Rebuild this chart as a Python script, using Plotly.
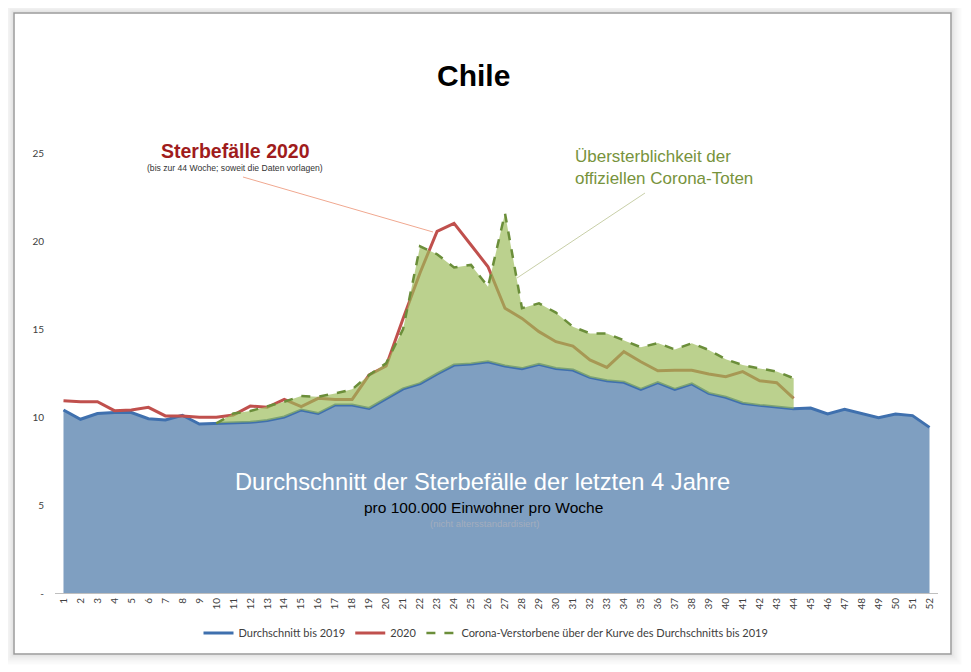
import plotly.graph_objects as go

weeks = list(range(1, 53))
week_labels = [str(w) for w in weeks]

# Durchschnitt bis 2019 (pro 100.000 Einwohner)
avg_2019 = [10.4, 9.87, 10.2, 10.25, 10.25, 9.9, 9.83, 10.1, 9.6, 9.64,
            9.65, 9.7, 9.8, 10.0, 10.4, 10.2, 10.68, 10.68, 10.49, 11.06,
            11.6, 11.9, 12.45, 12.95, 13.01, 13.14, 12.9, 12.75, 12.99, 12.76,
            12.67, 12.25, 12.06, 11.97, 11.57, 11.95, 11.57, 11.88, 11.34, 11.12,
            10.78, 10.66, 10.55, 10.47, 10.51, 10.17, 10.44, 10.21, 9.96, 10.17,
            10.08, 9.41]

# Sterbefaelle 2020, bis Woche 44
weeks_2020 = list(range(1, 45))
deaths_2020 = [10.93, 10.87, 10.87, 10.36, 10.4, 10.55, 10.06, 10.06, 9.98, 9.98,
               10.11, 10.62, 10.55, 11.0, 10.59, 11.06, 11.0, 11.0, 12.39, 12.9,
               15.6, 18.2, 20.55, 21.0, 19.77, 18.54, 16.18, 15.6, 14.85, 14.28,
               14.03, 13.24, 12.82, 13.71, 13.14, 12.63, 12.65, 12.65, 12.44, 12.29,
               12.58, 12.06, 11.95, 11.06]

# Durchschnitt + offizielle Corona-Tote, Woche 10 bis 44
weeks_corona = list(range(10, 45))
corona_top = [9.64, 10.2, 10.34, 10.59, 10.87, 11.19, 11.15, 11.34, 11.57, 12.39,
              13.05, 15.0, 19.7, 19.25, 18.5, 18.64, 17.4, 21.57, 16.18, 16.46,
              15.93, 15.13, 14.75, 14.75, 14.35, 13.96, 14.2, 13.84, 14.19, 13.81,
              13.28, 12.95, 12.76, 12.58, 12.2]
corona_base = avg_2019[9:44]

# the page puts the figure 8px in from the top left corner
OFF = 8
L, R, T, B = 55 - OFF, 33, 153 - OFF, 79
W, H = 971 - OFF, 672 - OFF
PW, PH = W - L - R, H - T - B


def px(x):
    # screen pixel -> paper x
    return (x - OFF - L) / PW


def py(y):
    # screen pixel -> paper y
    return (T + PH - (y - OFF)) / PH


fig = go.Figure()

fig.add_trace(go.Scatter(x=weeks, y=avg_2019, mode="lines", fill="tozeroy",
                         fillcolor="#7f9fc1", line=dict(width=0),
                         showlegend=False, hoverinfo="skip"))
fig.add_trace(go.Scatter(x=weeks, y=avg_2019, mode="lines",
                         name="Durchschnitt bis 2019",
                         line=dict(color="#3f70ae", width=3)))
fig.add_trace(go.Scatter(x=weeks_2020, y=deaths_2020, mode="lines", name="2020",
                         line=dict(color="#c0504d", width=3)))
fig.add_trace(go.Scatter(x=weeks_corona, y=corona_base, mode="lines",
                         line=dict(width=0), showlegend=False, hoverinfo="skip"))
fig.add_trace(go.Scatter(x=weeks_corona, y=corona_top, mode="lines", fill="tonexty",
                         fillcolor="rgba(155,187,89,0.68)", line=dict(width=0),
                         showlegend=False, hoverinfo="skip"))
fig.add_trace(go.Scatter(x=weeks_corona, y=corona_top, mode="lines",
                         name="Corona-Verstorbene über der Kurve des Durchschnitts bis 2019",
                         line=dict(color="#6b8e3a", width=2.5, dash="dash")))

shapes = []
# card shadow + border
for i, op in enumerate([0.10, 0.07, 0.05, 0.03, 0.02]):
    d = 1.5 + i * 2
    shapes.append(dict(type="rect", xref="paper", yref="paper",
                       x0=px(14 - d), x1=px(951 + d), y0=py(654 + d), y1=py(13 - d),
                       line=dict(color="rgba(0,0,0,%s)" % op, width=2), layer="below"))
shapes.append(dict(type="rect", xref="paper", yref="paper",
                   x0=px(14), x1=px(951), y0=py(654), y1=py(13),
                   line=dict(color="#9a9a9a", width=1.5), layer="below"))
# leader lines
shapes.append(dict(type="line", xref="paper", yref="paper",
                   x0=px(243), y0=py(177), x1=px(433), y1=py(232),
                   line=dict(color="#f0a890", width=1)))
shapes.append(dict(type="line", xref="paper", yref="paper",
                   x0=px(645), y0=py(193), x1=px(517), y1=py(278),
                   line=dict(color="#c8cfa8", width=1)))

annotations = [
    dict(text="<b>Chile</b>", x=px(473), y=py(75), font=dict(size=30, color="black")),
    dict(text="<b>Sterbefälle 2020</b>", x=px(235), y=py(151),
         font=dict(size=19.5, color="#a01c1c")),
    dict(text="(bis zur 44 Woche; soweit die Daten vorlagen)", x=px(235), y=py(168),
         font=dict(size=8.6, color="#333333")),
    dict(text="Übersterblichkeit der<br>offiziellen Corona-Toten",
         x=px(573), y=py(167), xanchor="left", align="left",
         font=dict(size=17, color="#77933c")),
    dict(text="Durchschnitt der Sterbefälle der letzten 4 Jahre", x=px(482), y=py(482),
         font=dict(size=23.7, color="white")),
    dict(text="pro 100.000 Einwohner pro Woche", x=px(483), y=py(507),
         font=dict(size=15.5, color="black")),
    dict(text="(nicht altersstandardisiert)", x=px(484), y=py(523),
         font=dict(size=9.5, color="#a3adbd")),
]
for a in annotations:
    a.update(xref="paper", yref="paper", showarrow=False)
    a.setdefault("xanchor", "center")
    a["yanchor"] = "middle"
    a["font"]["family"] = "Liberation Sans, Arial, sans-serif"

fig.update_layout(
    width=W, height=H,
    margin=dict(l=L, r=R, t=T, b=B),
    paper_bgcolor="white",
    plot_bgcolor="rgba(0,0,0,0)",
    shapes=shapes,
    annotations=annotations,
    showlegend=True,
    legend=dict(orientation="h", traceorder="normal",
                x=px(486), xanchor="center", y=py(633), yanchor="middle",
                font=dict(family="Lato, Carlito, sans-serif", size=11, color="#404040"),
                bgcolor="rgba(0,0,0,0)", itemwidth=30),
    xaxis=dict(range=[0.5, 52.5], tickvals=weeks, ticktext=week_labels, tickangle=-90,
               showgrid=False, zeroline=False, showline=True, linecolor="#bfbfbf",
               linewidth=1, ticks="",
               tickfont=dict(family="Lato, sans-serif", size=10, color="#404040")),
    yaxis=dict(range=[0, 25], tickvals=[0, 5, 10, 15, 20, 25],
               ticktext=["-", "5", "10", "15", "20", "25"],
               showgrid=False, zeroline=False, showline=False, ticks="",
               ticklabelstandoff=10,
               tickfont=dict(family="Lato, sans-serif", size=10, color="#404040")),
)

fig.write_html("out.html")
